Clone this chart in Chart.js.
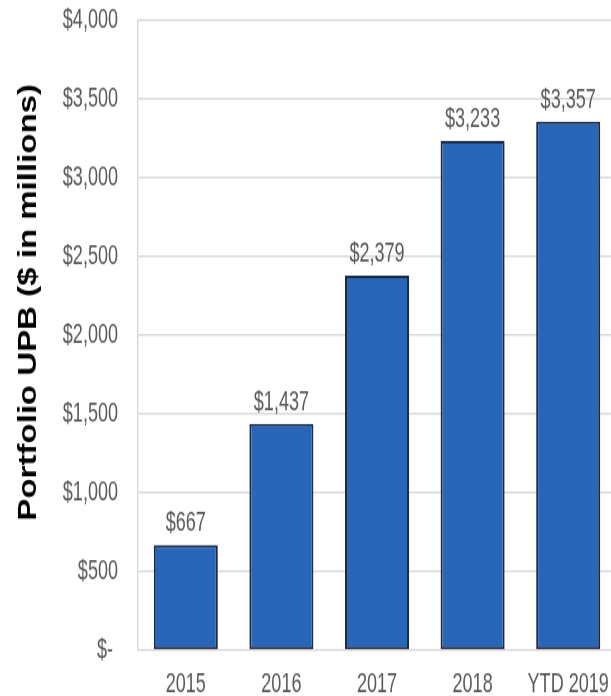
<!DOCTYPE html>
<html>
<head>
<meta charset="utf-8">
<script src="https://cdn.jsdelivr.net/npm/chart.js@4/dist/chart.umd.min.js"></script>
<style>
  html, body { margin: 0; padding: 0; background: #fff; overflow: hidden; }
  #frame { width: 611px; height: 696px; overflow: hidden; position: relative; }
  /* chart is laid out at 548px tall and stretched to fill the frame */
  #wrap { width: 660px; height: 548px; transform: scaleY(1.27); transform-origin: 0 0; }
</style>
</head>
<body>
<div id="frame">
  <div id="wrap"><canvas id="chart" width="660" height="548"></canvas></div>
</div>
<script>
// Portfolio unpaid principal balance by year ($ in millions)
const years = ["2015", "2016", "2017", "2018", "YTD 2019"];
const upb = [667, 1437, 2379, 3233, 3357];
const yMax = 4000;
const yStep = 500;

const sans = "'Liberation Sans', Arial, sans-serif";
const textGray = "#595959";
const gridGray = "#d9d9d9";
const squeeze = 0.82; // narrow-face look for the axis and value text

const money = v => v === 0 ? "$- " : "$" + v.toLocaleString("en-US");

// draw text squeezed horizontally around its anchor point
function narrowText(ctx, text, x, y, align) {
  ctx.save();
  ctx.translate(x, y);
  ctx.scale(squeeze, 1);
  ctx.textAlign = align;
  ctx.fillText(text, 0, 0);
  ctx.restore();
}

// tick labels for both axes and value labels above the bars
const labels = {
  id: "labels",
  afterDatasetsDraw(chart) {
    const { ctx, scales } = chart;
    ctx.save();
    ctx.font = "22px " + sans;
    ctx.fillStyle = textGray;
    ctx.textBaseline = "middle";

    const ys = scales.y;
    ys.ticks.forEach((t, i) => {
      narrowText(ctx, money(t.value), ys.right - 20, ys.getPixelForTick(i), "right");
    });

    const xs = scales.x;
    xs.ticks.forEach((t, i) => {
      narrowText(ctx, chart.data.labels[i], xs.getPixelForTick(i), xs.top + 27, "center");
    });

    const meta = chart.getDatasetMeta(0);
    meta.data.forEach((bar, i) => {
      narrowText(ctx, money(chart.data.datasets[0].data[i]), bar.x, bar.y - 17, "center");
    });
    ctx.restore();
  }
};

// rotated axis title, sits a little above the plot's centre line
const axisTitle = {
  id: "axisTitle",
  afterDraw(chart) {
    const { ctx } = chart;
    ctx.save();
    ctx.translate(29, 238);
    ctx.rotate(-Math.PI / 2);
    ctx.font = "bold 26px " + sans;
    ctx.fillStyle = "#000";
    ctx.textAlign = "center";
    ctx.textBaseline = "middle";
    ctx.fillText("Portfolio UPB ($ in millions)", 0, 0);
    ctx.restore();
  }
};

new Chart(document.getElementById("chart").getContext("2d"), {
  type: "bar",
  data: {
    labels: years,
    datasets: [{
      data: upb,
      backgroundColor: "#2a66b8",
      borderColor: "#1c2b45",
      borderWidth: 2,
      borderSkipped: false,
      barPercentage: 0.67,
      categoryPercentage: 1,
    }],
  },
  options: {
    responsive: false,
    animation: false,
    layout: { padding: { top: 16, left: 0, right: 44, bottom: 0 } },
    plugins: {
      legend: { display: false },
      tooltip: { enabled: false },
    },
    scales: {
      x: {
        grid: { display: false, drawTicks: false },
        border: { display: false },
        ticks: { display: false, autoSkip: false },
        afterFit: s => { s.height = 36; },
      },
      y: {
        min: 0,
        max: yMax,
        grid: { color: gridGray, lineWidth: 1.5, drawTicks: false },
        border: { display: true, color: gridGray, width: 1.5 },
        ticks: { display: false, stepSize: yStep },
        afterFit: s => { s.width = 138; },
      },
    },
  },
  plugins: [labels, axisTitle],
});
</script>
</body>
</html>
